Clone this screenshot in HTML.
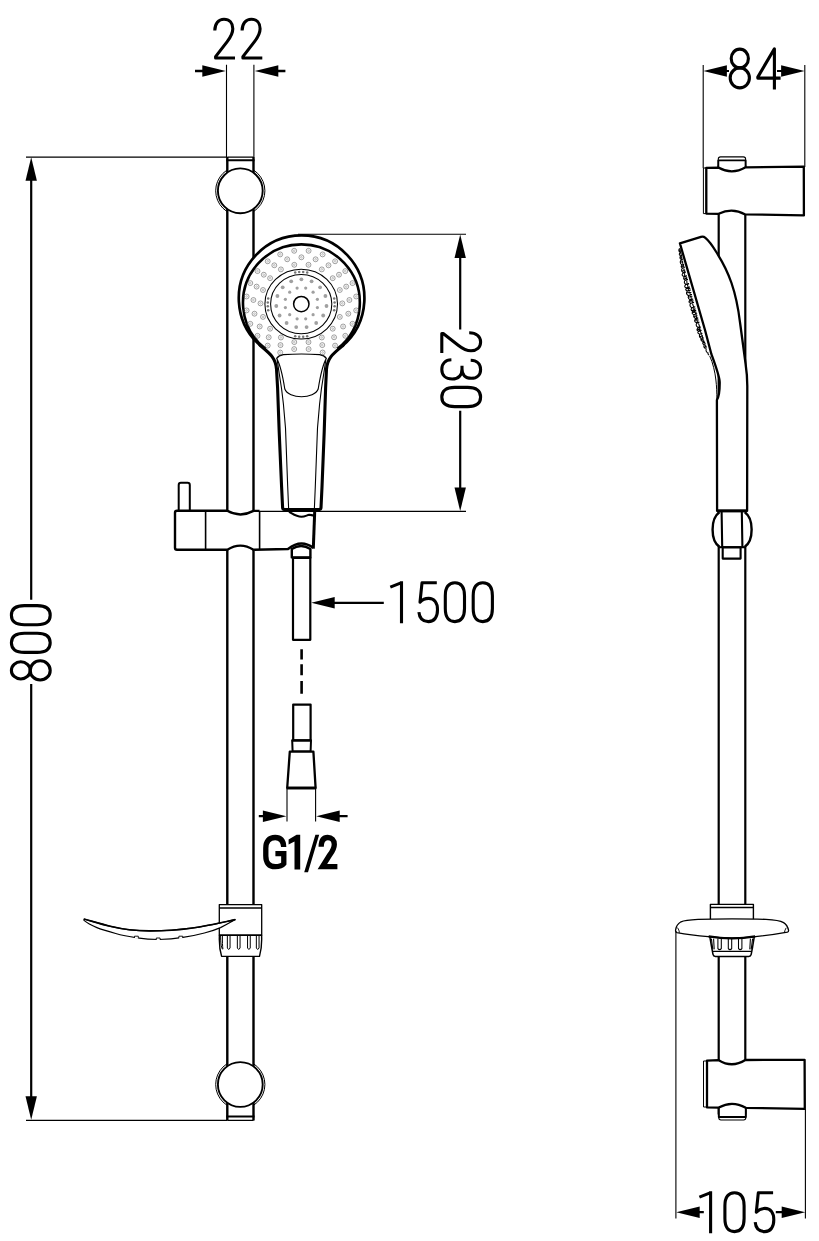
<!DOCTYPE html>
<html><head><meta charset="utf-8"><title>Shower set dimensions</title>
<style>
html,body{margin:0;padding:0;background:#fff;}
body{width:819px;height:1241px;overflow:hidden;font-family:"Liberation Sans",sans-serif;}
svg{display:block}
.k{fill:none;stroke:#000;stroke-linejoin:round;stroke-linecap:butt}
.w{fill:#fff;stroke:#000;stroke-linejoin:round}
</style></head><body>
<svg width="819" height="1241" viewBox="0 0 819 1241" font-family="Liberation Sans, sans-serif">
<rect width="819" height="1241" fill="#fff"/>

<defs>
 <!-- digits: box 22 x 42, light condensed, drawn with strokes -->
 <g id="d0"><path d="M1.6,14.6 C1.6,5.8 5,1.6 11.2,1.6 S20.8,5.8 20.8,14.6 V27.4 C20.8,36.2 17.4,40.4 11.2,40.4 S1.6,36.2 1.6,27.4 Z"/></g>
 <g id="d1"><path d="M0.3,5.9 L11,1.7 M11.5,0 V42" stroke-linecap="butt"/></g>
 <g id="d2"><path d="M1.8,13 C1.8,5.8 5.6,1.6 11,1.6 C16.4,1.6 19.8,5.4 19.8,11.2 C19.8,15.6 17.8,19.4 14.2,24 L2.6,39 V40.4 H22"/></g>
 <g id="d3"><path d="M1.8,11.5 C2,5.4 5.6,1.6 11,1.6 C16.4,1.6 19.9,5.2 19.9,11 C19.9,16.8 16.4,20.2 10.6,20.2 H7.4 M10.6,20.2 C16.8,20.2 20.6,23.8 20.6,30 C20.6,36.4 16.9,40.4 11,40.4 C5.2,40.4 1.6,36.8 1.4,30.8"/></g>
 <g id="d4"><path d="M18.4,42 V1.2 L1.8,29.6 V30.6 H24.6"/></g>
 <g id="d5"><path d="M19.4,1.6 H4.6 L2.6,21 C4.8,18.6 7.6,17.2 11.2,17.2 C16.8,17.2 20.1,21.8 20.1,28.6 C20.1,36 16.8,40.4 11,40.4 C5.4,40.4 2,37 1.5,31"/></g>
 <g id="d8"><ellipse cx="11.2" cy="11" rx="8.6" ry="9.4"/><ellipse cx="11.2" cy="30.4" rx="9.6" ry="10"/></g>
 <!-- arrow head pointing right, tip at 0,0 -->
 <path id="ah" d="M0,0 L-23.5,-5.7 V5.7 Z" fill="#000" stroke="none"/>
</defs>

<circle cx="240.3" cy="190.8" r="24.6" class="w" stroke-width="1"/>
<circle cx="240.3" cy="1084.5" r="24.6" class="w" stroke-width="1"/>
<rect x="227.3" y="157.2" width="26.19999999999999" height="963" fill="#fff" stroke="none"/>
<path d="M227.3,157 V1120.4 M253.5,157 V1120.4" class="k" stroke-width="2.4"/>
<path d="M226.3,160.2 H254.5 M226.3,1116.6 H254.5" class="k" stroke-width="2"/>
<path d="M227.3,157.1 H253.5 M227.3,1120.4 H253.5" class="k" stroke-width="1.1"/>
<path d="M226.5,64.8 V157 M253.9,64.8 V157" class="k" stroke-width="1.1"/>
<path d="M195,71 H206 M274,71 H285.4" class="k" stroke-width="2.4"/>
<use href="#ah" transform="translate(225.8,71) rotate(0)"/>
<use href="#ah" transform="translate(254.8,71) rotate(180)"/>
<g transform="translate(213,17.6)" fill="none" stroke="#000" stroke-width="3.1" stroke-linejoin="round" ><use href="#d2" x="0.00"/><use href="#d2" x="27.30"/></g>
<path d="M26,157.1 H227 M26,1120.4 H227" class="k" stroke-width="1.1"/>
<path d="M31.2,170 V599.8 M31.2,684 V1108" class="k" stroke-width="2.2"/>
<use href="#ah" transform="translate(31.2,157.3) rotate(-90)"/>
<use href="#ah" transform="translate(31.2,1119.7) rotate(90)"/>
<g transform="translate(9.8,681.6) rotate(-90)" fill="none" stroke="#000" stroke-width="3.1" stroke-linejoin="round" ><use href="#d8" x="0.00"/><use href="#d0" x="27.60"/><use href="#d0" x="55.20"/></g>
<circle cx="240.3" cy="190.8" r="22.4" class="w" stroke-width="1.9"/>
<circle cx="240.3" cy="1084.5" r="22.4" class="w" stroke-width="1.9"/>
<path d="M178.7,511 V485 Q178.7,482.8 180.9,482.8 H187.6 Q189.8,482.8 189.8,485 V511" class="w" stroke-width="2"/>
<path d="M177,510.8 H227.3 Q240.3,518 253.5,510.8 H259.6 L288,511.4 Q300.5,520.5 314.6,512.6 L312.6,547.6 Q301,537.5 288,549 L253.5,549.7 Q240.3,541.6 227.3,549.7 H177 Q175,549.7 175,547.7 V512.8 Q175,510.8 177,510.8 Z" fill="#fff" stroke="none"/>
<path d="M259.6,510.9 H253.5 Q240.3,518 227.3,510.8 H177 Q175,510.8 175,512.8 V547.7 Q175,549.7 177,549.7 H227.3 Q240.3,541.6 253.5,549.7 L288,549 Q301,538.5 313.2,547.8" class="k" stroke-width="2.4"/>
<path d="M289,511.8 C293,514 296.4,516.8 301.4,516.8 C305.2,516.8 307,515 309.2,514.8 C311,514.8 312.4,515.6 314.2,515.4" class="k" stroke-width="2.1"/>
<path d="M205.6,511 V549.6 M259.6,511 V549.6" class="k" stroke-width="1.6"/>
<path d="M314.7,511.6 L313.3,548.6" class="k" stroke-width="3"/>
<path d="M291.8,549 Q301,543 310.4,549 V557.4 H291.8 Z" class="w" stroke-width="2.4"/>
<rect x="293" y="557.8" width="17.3" height="82" class="w" stroke-width="2.2"/>
<path d="M298,234.3 H466 M259.6,511.4 H466" class="k" stroke-width="1.1"/>
<path d="M460.2,246 V329.6 M460.2,410.8 V500" class="k" stroke-width="2.2"/>
<use href="#ah" transform="translate(460.2,234.6) rotate(-90)"/>
<use href="#ah" transform="translate(460.2,511.1) rotate(90)"/>
<g transform="translate(482.2,331) rotate(90)" fill="none" stroke="#000" stroke-width="3.1" stroke-linejoin="round" ><use href="#d2" x="0.00"/><use href="#d3" x="27.40"/><use href="#d0" x="54.80"/></g>
<path d="M261.23,346.31 C270.5,354.1 275.4,358 276.5,369 L277.6,388 L279.2,432 L281.6,487 L282.6,507.6 Q282.7,509.4 284.4,509.4 H319.2 Q320.9,509.4 321,507.6 L322,487 L324.2,432 L325.6,388 L326.5,369 C327.6,358 332.5,354.1 341.97,346.31 Z" fill="#fff" stroke="none"/>
<path d="M261.23,346.31 A62.8,62.8 0 1 1 341.97,346.31 L301.4,342.8 Z" fill="#fff" stroke="none"/>
<path d="M261.23,346.31 A62.8,62.8 0 1 1 341.97,346.31" class="k" stroke-width="2.7"/>
<path d="M259.23,344.41 L261.23,346.31 C270.5,354.1 275.4,358 276.5,369 L277.6,388 L279.2,432 L281.6,487 L282.6,507.6 Q282.7,509.4 284.4,509.4" class="k" stroke-width="3.1"/>
<path d="M319.2,509.4 Q320.9,509.4 321,507.6 L322,487 L324.2,432 L325.6,388 L326.5,369 C327.6,358 332.5,354.1 341.97,346.31 L343.97,344.41" class="k" stroke-width="3.1"/>
<path d="M283.6,509.5 H320" class="k" stroke-width="2.9"/>
<path d="M265.45,348.82 A58.4,58.4 0 1 1 337.35,348.82" class="k" stroke-width="2.6"/>
<path d="M276.4,358.6 C278,356.4 280.4,355 283.4,354.6 C295,353.8 308,353.8 319.6,354.6 C322.6,355 325,356.4 326.6,358.6" class="k" stroke-width="1.1"/>
<path d="M276.6,358.4 C280,364 282.4,374 284.8,389 C286.6,394 294,396.8 301.5,396.8 C309,396.8 316.4,394 318.2,389 C320.6,374 323,364 326.4,358.4" class="k" stroke-width="1.1"/>
<path d="M277.2,360 C278,365 278.6,370 279.3,374 L281.6,389 L283.4,404 L285.5,428 L287.7,486.5 L288.6,508" class="k" stroke-width="1.1"/>
<path d="M325.8,360 C325,365 324.4,370 323.7,374 L321.4,389 L319.6,404 L317.5,428 L315.3,486.5 L314.4,508" class="k" stroke-width="1.1"/>
<ellipse cx="301.2" cy="304.1" rx="36.3" ry="34.9" class="k" stroke-width="1.05"/>
<ellipse cx="301.2" cy="304.1" rx="30.6" ry="29.7" class="k" stroke-width="1.05"/>
<circle cx="301.29999999999995" cy="304.1" r="7.7" class="k" stroke-width="1.5"/>
<g fill="none" stroke="#606060" stroke-width="0.6"><circle cx="308.6" cy="250.8" r="2.45"/><circle cx="308.6" cy="250.8" r="0.85" stroke-width="0.5" stroke="#8a8a8a"/><circle cx="322.6" cy="254.4" r="2.45"/><circle cx="322.6" cy="254.4" r="0.85" stroke-width="0.5" stroke="#8a8a8a"/><circle cx="335.1" cy="261.3" r="2.45"/><circle cx="335.1" cy="261.3" r="0.85" stroke-width="0.5" stroke="#8a8a8a"/><circle cx="345.3" cy="271.1" r="2.45"/><circle cx="345.3" cy="271.1" r="0.85" stroke-width="0.5" stroke="#8a8a8a"/><circle cx="352.5" cy="283.1" r="2.45"/><circle cx="352.5" cy="283.1" r="0.85" stroke-width="0.5" stroke="#8a8a8a"/><circle cx="356.2" cy="296.5" r="2.45"/><circle cx="356.2" cy="296.5" r="0.85" stroke-width="0.5" stroke="#8a8a8a"/><circle cx="356.2" cy="310.4" r="2.45"/><circle cx="356.2" cy="310.4" r="0.85" stroke-width="0.5" stroke="#8a8a8a"/><circle cx="352.5" cy="323.8" r="2.45"/><circle cx="352.5" cy="323.8" r="0.85" stroke-width="0.5" stroke="#8a8a8a"/><circle cx="345.3" cy="335.8" r="2.45"/><circle cx="345.3" cy="335.8" r="0.85" stroke-width="0.5" stroke="#8a8a8a"/><circle cx="335.1" cy="345.6" r="2.45"/><circle cx="335.1" cy="345.6" r="0.85" stroke-width="0.5" stroke="#8a8a8a"/><circle cx="322.6" cy="352.5" r="2.45"/><circle cx="322.6" cy="352.5" r="0.85" stroke-width="0.5" stroke="#8a8a8a"/><circle cx="280.2" cy="352.5" r="2.45"/><circle cx="280.2" cy="352.5" r="0.85" stroke-width="0.5" stroke="#8a8a8a"/><circle cx="267.7" cy="345.6" r="2.45"/><circle cx="267.7" cy="345.6" r="0.85" stroke-width="0.5" stroke="#8a8a8a"/><circle cx="257.5" cy="335.8" r="2.45"/><circle cx="257.5" cy="335.8" r="0.85" stroke-width="0.5" stroke="#8a8a8a"/><circle cx="250.3" cy="323.8" r="2.45"/><circle cx="250.3" cy="323.8" r="0.85" stroke-width="0.5" stroke="#8a8a8a"/><circle cx="246.6" cy="310.4" r="2.45"/><circle cx="246.6" cy="310.4" r="0.85" stroke-width="0.5" stroke="#8a8a8a"/><circle cx="246.6" cy="296.5" r="2.45"/><circle cx="246.6" cy="296.5" r="0.85" stroke-width="0.5" stroke="#8a8a8a"/><circle cx="250.3" cy="283.1" r="2.45"/><circle cx="250.3" cy="283.1" r="0.85" stroke-width="0.5" stroke="#8a8a8a"/><circle cx="257.5" cy="271.1" r="2.45"/><circle cx="257.5" cy="271.1" r="0.85" stroke-width="0.5" stroke="#8a8a8a"/><circle cx="267.7" cy="261.3" r="2.45"/><circle cx="267.7" cy="261.3" r="0.85" stroke-width="0.5" stroke="#8a8a8a"/><circle cx="280.2" cy="254.4" r="2.45"/><circle cx="280.2" cy="254.4" r="0.85" stroke-width="0.5" stroke="#8a8a8a"/><circle cx="294.2" cy="250.8" r="2.45"/><circle cx="294.2" cy="250.8" r="0.85" stroke-width="0.5" stroke="#8a8a8a"/><circle cx="301.4" cy="257.3" r="2.45"/><circle cx="301.4" cy="257.3" r="0.85" stroke-width="0.5" stroke="#8a8a8a"/><circle cx="315.6" cy="259.3" r="2.45"/><circle cx="315.6" cy="259.3" r="0.85" stroke-width="0.5" stroke="#8a8a8a"/><circle cx="328.5" cy="265.3" r="2.45"/><circle cx="328.5" cy="265.3" r="0.85" stroke-width="0.5" stroke="#8a8a8a"/><circle cx="339.0" cy="274.7" r="2.45"/><circle cx="339.0" cy="274.7" r="0.85" stroke-width="0.5" stroke="#8a8a8a"/><circle cx="346.2" cy="286.6" r="2.45"/><circle cx="346.2" cy="286.6" r="0.85" stroke-width="0.5" stroke="#8a8a8a"/><circle cx="349.4" cy="300.0" r="2.45"/><circle cx="349.4" cy="300.0" r="0.85" stroke-width="0.5" stroke="#8a8a8a"/><circle cx="348.3" cy="313.7" r="2.45"/><circle cx="348.3" cy="313.7" r="0.85" stroke-width="0.5" stroke="#8a8a8a"/><circle cx="343.1" cy="326.5" r="2.45"/><circle cx="343.1" cy="326.5" r="0.85" stroke-width="0.5" stroke="#8a8a8a"/><circle cx="334.1" cy="337.3" r="2.45"/><circle cx="334.1" cy="337.3" r="0.85" stroke-width="0.5" stroke="#8a8a8a"/><circle cx="322.3" cy="345.1" r="2.45"/><circle cx="322.3" cy="345.1" r="0.85" stroke-width="0.5" stroke="#8a8a8a"/><circle cx="308.6" cy="349.1" r="2.45"/><circle cx="308.6" cy="349.1" r="0.85" stroke-width="0.5" stroke="#8a8a8a"/><circle cx="294.2" cy="349.1" r="2.45"/><circle cx="294.2" cy="349.1" r="0.85" stroke-width="0.5" stroke="#8a8a8a"/><circle cx="280.5" cy="345.1" r="2.45"/><circle cx="280.5" cy="345.1" r="0.85" stroke-width="0.5" stroke="#8a8a8a"/><circle cx="268.7" cy="337.3" r="2.45"/><circle cx="268.7" cy="337.3" r="0.85" stroke-width="0.5" stroke="#8a8a8a"/><circle cx="259.7" cy="326.5" r="2.45"/><circle cx="259.7" cy="326.5" r="0.85" stroke-width="0.5" stroke="#8a8a8a"/><circle cx="254.5" cy="313.7" r="2.45"/><circle cx="254.5" cy="313.7" r="0.85" stroke-width="0.5" stroke="#8a8a8a"/><circle cx="253.4" cy="300.0" r="2.45"/><circle cx="253.4" cy="300.0" r="0.85" stroke-width="0.5" stroke="#8a8a8a"/><circle cx="256.6" cy="286.6" r="2.45"/><circle cx="256.6" cy="286.6" r="0.85" stroke-width="0.5" stroke="#8a8a8a"/><circle cx="263.8" cy="274.7" r="2.45"/><circle cx="263.8" cy="274.7" r="0.85" stroke-width="0.5" stroke="#8a8a8a"/><circle cx="274.3" cy="265.3" r="2.45"/><circle cx="274.3" cy="265.3" r="0.85" stroke-width="0.5" stroke="#8a8a8a"/><circle cx="287.2" cy="259.3" r="2.45"/><circle cx="287.2" cy="259.3" r="0.85" stroke-width="0.5" stroke="#8a8a8a"/><circle cx="308.5" cy="264.8" r="2.45"/><circle cx="308.5" cy="264.8" r="0.85" stroke-width="0.5" stroke="#8a8a8a"/><circle cx="321.8" cy="269.4" r="2.45"/><circle cx="321.8" cy="269.4" r="0.85" stroke-width="0.5" stroke="#8a8a8a"/><circle cx="332.7" cy="278.2" r="2.45"/><circle cx="332.7" cy="278.2" r="0.85" stroke-width="0.5" stroke="#8a8a8a"/><circle cx="339.8" cy="290.0" r="2.45"/><circle cx="339.8" cy="290.0" r="0.85" stroke-width="0.5" stroke="#8a8a8a"/><circle cx="342.3" cy="303.4" r="2.45"/><circle cx="342.3" cy="303.4" r="0.85" stroke-width="0.5" stroke="#8a8a8a"/><circle cx="339.8" cy="316.9" r="2.45"/><circle cx="339.8" cy="316.9" r="0.85" stroke-width="0.5" stroke="#8a8a8a"/><circle cx="332.7" cy="328.7" r="2.45"/><circle cx="332.7" cy="328.7" r="0.85" stroke-width="0.5" stroke="#8a8a8a"/><circle cx="321.8" cy="337.5" r="2.45"/><circle cx="321.8" cy="337.5" r="0.85" stroke-width="0.5" stroke="#8a8a8a"/><circle cx="308.5" cy="342.1" r="2.45"/><circle cx="308.5" cy="342.1" r="0.85" stroke-width="0.5" stroke="#8a8a8a"/><circle cx="294.3" cy="342.1" r="2.45"/><circle cx="294.3" cy="342.1" r="0.85" stroke-width="0.5" stroke="#8a8a8a"/><circle cx="280.9" cy="337.5" r="2.45"/><circle cx="280.9" cy="337.5" r="0.85" stroke-width="0.5" stroke="#8a8a8a"/><circle cx="270.1" cy="328.7" r="2.45"/><circle cx="270.1" cy="328.7" r="0.85" stroke-width="0.5" stroke="#8a8a8a"/><circle cx="263.0" cy="316.9" r="2.45"/><circle cx="263.0" cy="316.9" r="0.85" stroke-width="0.5" stroke="#8a8a8a"/><circle cx="260.5" cy="303.4" r="2.45"/><circle cx="260.5" cy="303.4" r="0.85" stroke-width="0.5" stroke="#8a8a8a"/><circle cx="263.0" cy="290.0" r="2.45"/><circle cx="263.0" cy="290.0" r="0.85" stroke-width="0.5" stroke="#8a8a8a"/><circle cx="270.1" cy="278.2" r="2.45"/><circle cx="270.1" cy="278.2" r="0.85" stroke-width="0.5" stroke="#8a8a8a"/><circle cx="280.9" cy="269.4" r="2.45"/><circle cx="280.9" cy="269.4" r="0.85" stroke-width="0.5" stroke="#8a8a8a"/><circle cx="294.3" cy="264.8" r="2.45"/><circle cx="294.3" cy="264.8" r="0.85" stroke-width="0.5" stroke="#8a8a8a"/></g>
<g fill="#a0a0a0"><circle cx="301.4" cy="279.3" r="1.9"/><circle cx="311.6" cy="281.3" r="1.9"/><circle cx="320.1" cy="287.3" r="1.9"/><circle cx="325.4" cy="296.0" r="1.9"/><circle cx="326.5" cy="306.0" r="1.9"/><circle cx="323.2" cy="315.5" r="1.9"/><circle cx="316.2" cy="323.0" r="1.9"/><circle cx="306.6" cy="327.1" r="1.9"/><circle cx="296.2" cy="327.1" r="1.9"/><circle cx="286.6" cy="323.0" r="1.9"/><circle cx="279.6" cy="315.5" r="1.9"/><circle cx="276.3" cy="306.0" r="1.9"/><circle cx="277.4" cy="296.0" r="1.9"/><circle cx="282.7" cy="287.3" r="1.9"/><circle cx="291.2" cy="281.3" r="1.9"/><circle cx="305.7" cy="288.1" r="1.6"/><circle cx="313.1" cy="292.2" r="1.6"/><circle cx="317.4" cy="299.3" r="1.6"/><circle cx="317.4" cy="307.6" r="1.6"/><circle cx="313.1" cy="314.7" r="1.6"/><circle cx="305.7" cy="318.8" r="1.6"/><circle cx="297.1" cy="318.8" r="1.6"/><circle cx="289.7" cy="314.7" r="1.6"/><circle cx="285.4" cy="307.6" r="1.6"/><circle cx="285.4" cy="299.3" r="1.6"/><circle cx="289.7" cy="292.2" r="1.6"/><circle cx="297.1" cy="288.1" r="1.6"/></g>
<g fill="#757575"><circle cx="295.2" cy="272.5" r="1.25"/><circle cx="299.2" cy="272.1" r="1.25"/><circle cx="303.2" cy="272.1" r="1.25"/><circle cx="307.2" cy="272.5" r="1.25"/><circle cx="334.2" cy="298.6" r="1.25"/><circle cx="334.6" cy="302.5" r="1.25"/><circle cx="334.6" cy="306.3" r="1.25"/><circle cx="334.2" cy="310.2" r="1.25"/><circle cx="307.2" cy="336.3" r="1.25"/><circle cx="303.2" cy="336.7" r="1.25"/><circle cx="299.2" cy="336.7" r="1.25"/><circle cx="295.2" cy="336.3" r="1.25"/><circle cx="268.2" cy="310.2" r="1.25"/><circle cx="267.8" cy="306.3" r="1.25"/><circle cx="267.8" cy="302.5" r="1.25"/><circle cx="268.2" cy="298.6" r="1.25"/></g>
<path d="M301.6,649.2 V659.5 M301.6,664.2 V675.2 M301.6,681 V693.7" class="k" stroke-width="2.6"/>
<rect x="293.2" y="704.6" width="17.4" height="36" class="w" stroke-width="2.2"/>
<path d="M292.2,740.4 H311 L310.6,751.4 H292.6 Z" class="w" stroke-width="2"/>
<path d="M291.6,740.4 H311.4" class="k" stroke-width="2.2"/>
<path d="M289.8,751.6 H313.4 L315.6,788 H287.2 Z" class="w" stroke-width="2.3"/>
<path d="M286.6,788 H316.2" class="k" stroke-width="2.6"/>
<path d="M287,789 V821.6 M315.6,789 V821.6" class="k" stroke-width="1.1"/>
<path d="M258.8,816.2 H268 M335,816.2 H347.6" class="k" stroke-width="2.2"/>
<use href="#ah" transform="translate(286.4,816.2) rotate(0)"/>
<use href="#ah" transform="translate(316.2,816.2) rotate(180)"/>
<g fill="none" stroke="#000" stroke-width="5.3" stroke-linejoin="miter" stroke-linecap="butt"><path d="M283.7,847 C283.4,840.6 280.4,837.5 275.2,837.5 C269,837.5 265.8,841.4 265.8,848.2 V856 C265.8,862.8 269,866.7 275.2,866.7 C279.6,866.7 282.4,865.4 283.8,863.6 V853.6 H275.4"/><path d="M321.2,846.8 C321.2,840.6 323.6,837.5 327.7,837.5 C331.7,837.5 334.3,840.3 334.3,844.4 C334.3,848 332.8,850.8 329.8,854.8 L322.4,866.7 H337.4"/></g>
<path d="M300.2,834.7 V869.6 H294.5 V841.4 L288.6,844.6 V839.6 L296.6,834.7 Z M304.2,872.2 L315.4,834.7 H319.2 L308,872.2 Z" fill="#000" stroke="none"/>
<path d="M332,602.8 H383.8" class="k" stroke-width="2.2"/>
<use href="#ah" transform="translate(311.2,602.8) rotate(180)"/>
<g transform="translate(390,581.2)" fill="none" stroke="#000" stroke-width="3.1" stroke-linejoin="round" ><use href="#d1" x="0.00"/><use href="#d5" x="27.40"/><use href="#d0" x="53.70"/><use href="#d0" x="81.60"/></g>
<path d="M219.3,904.6 H261.7 V935.2 H219.3 Z" class="w" stroke-width="1.3"/>
<path d="M219.3,907.9 H261.7" class="k" stroke-width="1.5"/>
<path d="M219.4,935.2 C219,944 219.6,950 221.6,956.4 H259.5 C261.4,950 262,944 261.6,935.2 Z" class="w" stroke-width="1.4"/>
<g class="k" stroke-width="1"><path d="M227.35,935.6 V948 Q228.7,951 230.04999999999998,948 V935.6"/><path d="M237.35,935.6 V948 Q238.7,951 240.04999999999998,948 V935.6"/><path d="M247.55,935.6 V948 Q248.9,951 250.25,948 V935.6"/><path d="M256.34999999999997,935.6 V948 Q257.7,951 259.05,948 V935.6"/><path d="M220.6,935.6 C220.6,942 221,947 222.6,949.4 M222.4,935.6 C222.3,942 222.5,946 222.9,949"/></g>
<path d="M84,919 C92,921.2 100,923.8 110.3,926.3 C124,929.6 137,931 150.6,930.9 C165,930.8 178,930 191,928.2 C202,926.6 211,925 220.5,922.8 C226,921.6 231,920.6 235.3,919.6 C234,920.4 232.6,921 231.3,921.7 C228,923.6 224,925.8 220.5,927.6 C215,930 210,931.6 204.4,933 C197,935 190,936.4 182.9,937.3 C175,938.6 167,939.3 158.7,939.5 C151,939.4 144,938.8 137.2,937.8 C130,936.8 122,935.4 115.7,933.5 C109,931.6 102,929.6 96.9,927.6 C92,925.6 87,923 84,920.4 Z" class="w" stroke-width="1.2"/>
<path d="M84,919 C92,921.2 100,923.8 110.3,926.3 C124,929.6 137,931 150.6,930.9 C165,930.8 178,930 191,928.2 C202,926.6 211,925 220.5,922.8 C226,921.6 231,920.6 235.3,919.6" class="k" stroke-width="1.6"/>
<path d="M134.6,937.7 H138.20000000000002" stroke="#fff" stroke-width="2.2" fill="none"/><path d="M134.5,937.9000000000001 V936.2 H138.3 V937.9000000000001" class="k" stroke-width="0.9"/><path d="M156.39999999999998,939.5 H160.0" stroke="#fff" stroke-width="2.2" fill="none"/><path d="M156.29999999999998,939.7 V938.0 H160.1 V939.7" class="k" stroke-width="0.9"/><path d="M179.0,937.7 H182.60000000000002" stroke="#fff" stroke-width="2.2" fill="none"/><path d="M178.9,937.9000000000001 V936.2 H182.70000000000002 V937.9000000000001" class="k" stroke-width="0.9"/>
<path d="M703.2,65 V168 M804.8,65 V167" class="k" stroke-width="1.1"/>
<rect x="718.7" y="166" width="26.59999999999991" height="948" class="w" stroke-width="2.2"/>
<path d="M718.3,170 V159 Q718.3,156.9 720.5,156.9 H743.4 Q745.6,156.9 745.6,159 V170" class="w" stroke-width="1.1"/>
<path d="M718.3,170 V160.4 H745.6 V170" class="k" stroke-width="1.9"/>
<rect x="703.4" y="168" width="3" height="45.6" class="w" stroke-width="1"/>
<path d="M706.3,167.8 L718.3,167.6 Q732,175.2 745.6,167.3 L803.8,166.6 L803.9,215.4 L745.3,214.4 Q732,207.2 718.7,213.8 L706.3,213.6 Z" class="w" stroke-width="2.3"/>
<path d="M719.6,512.2 C710.7,521 710.7,538 719.6,546.8 H744.6 C753.7,538 753.7,521 744.6,512.2 Z" fill="#fff" stroke="none"/>
<path d="M719.4,512.2 C710.3,518.6 710.3,540.4 719.4,546.8 M744.8,512.2 C753.9,518.6 753.9,540.4 744.8,546.8" class="k" stroke-width="2.4"/>
<path d="M721.6,511 L722.2,547 M741.8,511 L742.4,547" class="k" stroke-width="2.1"/>
<path d="M718.6,547.2 H746" class="k" stroke-width="2.1"/>
<rect x="722.7" y="547.4" width="17.9" height="11.2" class="w" stroke-width="2.1"/>
<path d="M680.3,248.4 L679.2,249.0 Q678.2,251.1 680.1,252.3 L681.3,252.3 M680.2,249.3 L680.4,251.9 M680.1,250.6 L679.4,250.8 M681.2,252.4 L679.8,253.1 Q678.6,254.9 680.5,255.9 L682.1,255.8 M680.9,253.2 L681.3,255.5 M681.9,255.6 L680.4,256.3 Q679.2,258.2 681.2,259.3 L682.8,259.2 M681.6,256.4 L681.9,258.9 M681.9,257.5 L680.3,257.0 M682.8,259.6 L680.7,260.5 Q679.4,263.0 681.8,264.7 L684.1,264.4 M682.2,260.8 L682.9,263.9 M683.2,262.0 L680.6,261.7 M683.9,264.4 L681.8,265.3 Q680.3,267.1 682.5,267.9 L684.7,267.6 M683.3,265.3 L684.1,267.3 M684.2,266.0 L681.7,266.6 M684.7,267.6 L682.1,268.6 Q680.7,271.1 683.1,272.6 L686.0,272.1 M683.8,268.8 L684.4,271.8 M685.2,269.9 L682.2,271.0 M685.9,272.1 L682.8,273.3 Q681.2,275.3 683.6,276.3 L686.9,275.7 M684.6,273.2 L684.7,275.7 M686.9,275.8 L684.2,276.9 Q682.7,278.9 685.0,279.9 L687.9,279.5 M685.9,276.9 L686.8,279.2 M687.3,277.7 L684.3,279.0 M687.9,279.4 L684.9,280.5 Q683.4,283.0 686.0,284.5 L689.1,284.0 M686.8,280.7 L687.0,283.8 M689.0,283.6 L685.5,284.8 Q683.7,286.8 686.2,287.7 L689.9,287.0 M687.4,284.7 L688.1,287.0 M689.9,286.9 L686.5,288.2 Q684.7,290.1 687.2,290.8 L690.8,290.2 M688.4,288.0 L688.6,290.2 M690.3,288.6 L686.1,288.8 M690.7,290.0 L687.1,291.3 Q685.5,294.0 688.2,295.5 L692.0,294.8 M689.1,291.5 L690.4,294.5 M691.3,292.4 L686.8,292.8 M691.9,294.5 L688.8,295.6 Q687.3,298.1 689.8,299.5 L693.1,298.9 M690.7,295.8 L691.4,298.7 M692.4,296.7 L688.6,297.1 M693.2,299.1 L689.7,300.4 Q688.0,302.3 690.4,303.1 L694.1,302.4 M691.6,300.2 L692.7,302.3 M693.5,300.8 L689.4,301.3 M694.0,302.3 L690.5,303.5 Q689.0,306.2 691.6,307.7 L695.3,307.0 M692.5,303.7 L693.6,306.7 M695.2,306.8 L691.8,308.1 Q690.1,310.2 692.6,311.3 L696.2,310.6 M693.7,308.0 L694.2,310.5 M695.6,308.7 L691.9,310.8 M696.2,310.4 L692.8,311.6 Q691.2,313.6 693.6,314.5 L697.1,313.9 M694.7,311.5 L695.6,313.8 M696.6,312.2 L692.5,312.4 M697.1,313.6 L694.2,314.7 Q692.7,317.0 695.1,318.2 L698.2,317.7 M696.0,314.8 L696.6,317.5 M697.5,315.7 L694.1,316.5 M698.2,318.1 L695.2,319.2 Q693.7,321.4 696.1,322.5 L699.3,322.0 M697.0,319.2 L697.3,321.9 M698.7,320.0 L695.0,320.3 M699.4,322.3 L696.7,323.3 Q695.3,325.8 697.8,327.3 L700.6,326.8 M698.5,323.5 L699.6,326.4 M700.7,327.2 L697.6,328.3 Q696.0,330.3 698.4,331.1 L701.6,330.6 M699.4,328.2 L699.6,330.6 M701.0,328.9 L697.5,329.7 M701.5,330.3 L698.5,331.4 Q696.9,333.2 699.2,334.0 L702.4,333.4 M700.3,331.3 L701.2,333.3 M702.3,333.3 L699.9,334.2 Q698.5,336.7 700.9,338.2 L703.5,337.8 M701.5,334.4 L702.6,337.3 M702.8,335.5 L700.1,336.7 M703.4,337.4 L701.5,338.3 Q700.1,340.2 702.2,341.2 L704.4,340.9 M702.9,338.3 L703.1,340.7 M703.8,339.2 L701.3,339.4 M704.5,341.3 L703.2,341.9 Q702.0,343.8 704.0,344.8 L705.4,344.7 M704.4,342.0 L705.3,344.2 M704.8,343.0 L703.0,342.6 M705.3,344.5 L704.3,345.0 Q703.1,347.0 705.1,348.2 L706.3,348.2 M705.4,345.2 L706.5,347.5 M705.7,346.3 L704.6,347.5 M706.4,348.6 L706.3,348.9 Q705.4,351.1 707.3,352.6 L707.5,352.8 M707.6,352.9 L708.3,353.0 Q707.3,354.1 708.7,354.7 L708.2,355.1 " class="k" stroke-width="1.05"/>
<path d="M679.9,243.3 L701,236.9 Q703.4,236.2 705.4,237.8 C711,242.4 714.6,249.4 718,254.8 C724,264.4 728.4,274 731.5,283 C735.6,295 738.4,309 740,322.3 C742,337 744,352 745.6,364 C746.8,372 747.3,378 747.3,386 L747.1,510.9 H717.1 L716.9,400 C719,396.6 719.8,391 719.7,382 C719.4,376 716.4,368 711.4,354.2 L705,330 Z" class="w" stroke-width="2.3"/>
<path d="M717.1,510.9 H747.1" class="k" stroke-width="3"/>
<path d="M709.7,355.9 C713,363 715,372 715.9,380 C716.6,386 716.9,392 716.9,400" class="k" stroke-width="1"/>
<path d="M710.4,904.4 H753.4 V920 H710.4 Z" class="w" stroke-width="1.4"/>
<path d="M710.4,907.5 H753.4" class="k" stroke-width="1.3"/>
<path d="M709.8,936.7 H754.3 L752.6,947 L751.2,954.4 Q750.8,956.4 748.8,956.4 H715.4 Q713.4,956.4 713,954.4 L711.6,947 Z" class="w" stroke-width="1.5"/>
<path d="M712.6,951.4 H751.6" class="k" stroke-width="1.1"/>
<g class="k" stroke-width="1.05"><path d="M717.9,938.6 V948.6 Q719.6,950.6 721.3000000000001,948.6 V938.6"/><path d="M728.3,938.6 V948.6 Q730,950.6 731.7,948.6 V938.6"/><path d="M738.5,938.6 V948.6 Q740.2,950.6 741.9000000000001,948.6 V938.6"/><path d="M711.4,938.6 L712.8,949.4 M713.6,938.6 L714.2,949.4 M752.6,938.6 L751.2,949.4 M750.4,938.6 L749.8,949.4"/></g>
<path d="M675.6,929.8 C676,926.6 678,923.6 681,921.8 C684,920.4 690,919.8 698,919.4 C708,919 720,918.9 732,918.9 C744,918.9 756,919 766,919.4 C774,919.8 780,920.6 783.6,922.6 C786.4,924.4 788,927.6 788.6,930.4 C788.6,931.4 788.2,931.9 787.4,932.1 C778,933.8 767,935.6 755.5,936.6 C748,937.4 740,937.8 731.6,937.8 C723,937.8 716,937.4 708.2,936.6 C697,935.6 686,934.2 676.9,932.6 C675.8,932.2 675.4,931.2 675.6,929.8 Z" class="w" stroke-width="1.3"/>
<path d="M677.5,927.6 C678.6,929.4 679.2,930.6 679.5,932.6 M786.2,927.8 C785.2,929.6 784.6,930.8 784.4,932.4" class="k" stroke-width="0.9"/>
<path d="M708.6,936.4 Q732,940.6 755.2,936.4" class="k" stroke-width="2.2"/>
<path d="M718.8,1106 V1117.8 Q718.8,1120 721,1120 H743.6 Q745.8,1120 745.8,1117.8 V1106" class="w" stroke-width="1.1"/>
<path d="M718.8,1106 V1117 H745.8 V1106" class="k" stroke-width="1.9"/>
<rect x="703.5" y="1061" width="3.4" height="46" class="w" stroke-width="1"/>
<path d="M707,1060.6 L718.7,1060.2 Q732,1068.4 745.3,1060 L804.6,1059.8 L804.8,1108.8 L745.8,1107.8 Q732,1100 718.8,1107.6 L707,1107.4 Z" class="w" stroke-width="2.3"/>
<path d="M675.9,931 V1218.4 M805.4,1109 V1218.4" class="k" stroke-width="1.1"/>
<use href="#ah" transform="translate(676.2,1212.2) rotate(180)"/>
<use href="#ah" transform="translate(805.2,1212.2) rotate(0)"/>
<path d="M698,1212.2 H703.8 M775.8,1212.2 H783" class="k" stroke-width="2.2"/>
<g transform="translate(699.1,1191.2)" fill="none" stroke="#000" stroke-width="3.1" stroke-linejoin="round" ><use href="#d1" x="0.00"/><use href="#d0" x="24.20"/><use href="#d5" x="54.60"/></g>
<use href="#ah" transform="translate(703.4,71) rotate(180)"/>
<use href="#ah" transform="translate(804.6,71) rotate(0)"/>
<path d="M725,71 H729 M777,71 H783" class="k" stroke-width="2.2"/>
<g transform="translate(728.6,47.5)" fill="none" stroke="#000" stroke-width="3.1" stroke-linejoin="round" ><use href="#d8" x="0.00"/><use href="#d4" x="27.40"/></g>
</svg>
</body></html>
